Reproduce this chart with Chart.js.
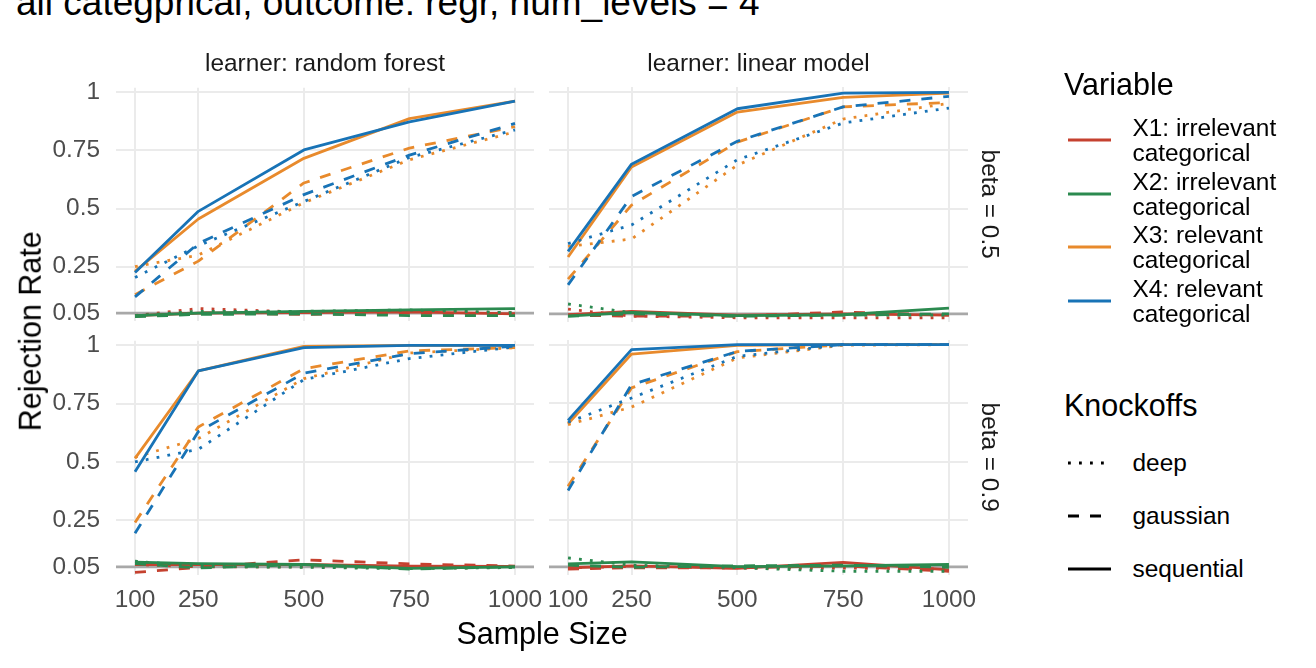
<!DOCTYPE html>
<html><head><meta charset="utf-8">
<script src="https://cdn.jsdelivr.net/npm/chart.js@4.4.0/dist/chart.umd.min.js"></script>
<style>
body{margin:0;width:1316px;height:668px;overflow:hidden;background:#fff;position:relative;font-family:'Liberation Sans',Arial,Helvetica,sans-serif;}
.t{position:absolute;white-space:nowrap;}
canvas{position:absolute;}
</style></head><body>
<script>
// ---------- data ----------
const titleText = 'all categprical, outcome: regr, num_levels = 4';
const learnerLabels = ['learner: random forest', 'learner: linear model'];
const betaLabels = ['beta = 0.5', 'beta = 0.9'];
const xAxisTitle = 'Sample Size';
const yAxisTitle = 'Rejection Rate';
const sampleSizes = [100, 250, 500, 750, 1000];
const xTickLabels = ['100', '250', '500', '750', '1000'];
const yTickValues = [0.05, 0.25, 0.5, 0.75, 1];
const yTickLabels = ['0.05', '0.25', '0.5', '0.75', '1'];
const alphaLevel = 0.05;
const variableTitle = 'Variable';
const variableNames = ['X1: irrelevant\ncategorical', 'X2: irrelevant\ncategorical', 'X3: relevant\ncategorical', 'X4: relevant\ncategorical'];
const knockoffTitle = 'Knockoffs';
const knockoffNames = ['deep', 'gaussian', 'sequential'];

// rows: X1, X2, X3, X4 ; columns follow sampleSizes
// learner: random forest, beta = 0.5
const rf05_deep = [
  [0.040, 0.070, 0.055, 0.060, 0.052],
  [0.040, 0.058, 0.058, 0.064, 0.052],
  [0.250, 0.300, 0.525, 0.710, 0.830],
  [0.204, 0.340, 0.530, 0.720, 0.838]
];
const rf05_gaussian = [
  [0.037, 0.052, 0.045, 0.050, 0.047],
  [0.035, 0.045, 0.047, 0.040, 0.040],
  [0.130, 0.274, 0.610, 0.760, 0.852],
  [0.120, 0.350, 0.560, 0.730, 0.866]
];
const rf05_sequential = [
  [0.040, 0.050, 0.053, 0.056, 0.047],
  [0.040, 0.050, 0.058, 0.064, 0.070],
  [0.230, 0.455, 0.716, 0.887, 0.962],
  [0.225, 0.488, 0.752, 0.873, 0.962]
];
// learner: linear model, beta = 0.5
const lm05_deep = [
  [0.070, 0.040, 0.033, 0.033, 0.033],
  [0.092, 0.055, 0.040, 0.045, 0.045],
  [0.338, 0.370, 0.686, 0.883, 0.950],
  [0.350, 0.430, 0.709, 0.866, 0.930]
];
const lm05_gaussian = [
  [0.044, 0.040, 0.040, 0.058, 0.044],
  [0.040, 0.050, 0.040, 0.044, 0.050],
  [0.198, 0.515, 0.784, 0.935, 0.954],
  [0.174, 0.552, 0.788, 0.935, 0.980]
];
const lm05_sequential = [
  [0.046, 0.060, 0.044, 0.050, 0.044],
  [0.040, 0.056, 0.042, 0.046, 0.074],
  [0.293, 0.678, 0.913, 0.976, 0.994],
  [0.317, 0.690, 0.927, 0.994, 0.997]
];
// learner: random forest, beta = 0.9
const rf09_deep = [
  [0.060, 0.050, 0.050, 0.045, 0.047],
  [0.074, 0.052, 0.048, 0.042, 0.047],
  [0.520, 0.600, 0.857, 0.967, 0.990],
  [0.500, 0.554, 0.853, 0.943, 0.993]
];
const rf09_gaussian = [
  [0.026, 0.048, 0.080, 0.063, 0.053],
  [0.064, 0.045, 0.060, 0.040, 0.050],
  [0.240, 0.650, 0.900, 0.976, 0.990],
  [0.194, 0.630, 0.880, 0.964, 0.996]
];
const rf09_sequential = [
  [0.060, 0.060, 0.060, 0.053, 0.052],
  [0.070, 0.064, 0.060, 0.043, 0.050],
  [0.515, 0.890, 0.995, 1.000, 1.000],
  [0.458, 0.890, 0.990, 1.000, 1.000]
];
// learner: linear model, beta = 0.9
const lm09_deep = [
  [0.045, 0.052, 0.045, 0.045, 0.040],
  [0.088, 0.057, 0.046, 0.031, 0.031],
  [0.658, 0.733, 0.943, 0.998, 1.000],
  [0.668, 0.772, 0.950, 1.000, 1.000]
];
const lm09_gaussian = [
  [0.040, 0.046, 0.046, 0.054, 0.031],
  [0.057, 0.048, 0.054, 0.057, 0.048],
  [0.394, 0.815, 0.970, 1.000, 1.000],
  [0.376, 0.829, 0.971, 1.000, 1.000]
];
const lm09_sequential = [
  [0.046, 0.054, 0.043, 0.069, 0.037],
  [0.063, 0.071, 0.051, 0.054, 0.060],
  [0.662, 0.960, 0.997, 1.000, 1.000],
  [0.676, 0.979, 1.000, 1.000, 1.000]
];

// ---------- styles ----------
const variableColors = ['#c5412f', '#2b8a4f', '#e88a2c', '#1873b6'];
const knockoffDashes = [[2.8, 8.2], [11, 11], []];
const LW = 2.8;
const FONT = "'Liberation Sans', Arial, Helvetica, sans-serif";
const X_MIN = 55, X_MAX = 1045, Y_MIN = 0.015, Y_MAX = 1.02;

// ---------- text helpers ----------
function addText(txt, x, base, fs, align, color) {
  const d = document.createElement('div');
  d.className = 't';
  d.textContent = txt;
  d.style.fontSize = fs + 'px';
  d.style.lineHeight = fs + 'px';
  d.style.color = color || '#000';
  d.style.top = (base - 0.8465 * fs) + 'px';
  if (align === 'center') { d.style.left = (x - 500) + 'px'; d.style.width = '1000px'; d.style.textAlign = 'center'; }
  else { d.style.left = x + 'px'; }
  document.body.appendChild(d);
}
function addRotText(txt, cx, cy, fs, deg, color) {
  const d = document.createElement('div');
  d.className = 't';
  d.textContent = txt;
  d.style.fontSize = fs + 'px';
  d.style.lineHeight = fs + 'px';
  d.style.height = fs + 'px';
  d.style.width = '600px';
  d.style.textAlign = 'center';
  d.style.left = (cx - 300) + 'px';
  d.style.top = (cy - fs / 2) + 'px';
  d.style.color = color || '#000';
  d.style.transform = 'rotate(' + deg + 'deg)';
  d.style.transformOrigin = '50% 50%';
  document.body.appendChild(d);
}

// ---------- panels ----------
const refLinePlugin = {
  id: 'refLine',
  beforeDatasetsDraw(chart) {
    const {ctx, chartArea, scales} = chart;
    const y = scales.y.getPixelForValue(alphaLevel);
    ctx.save();
    ctx.strokeStyle = '#a8a8a8';
    ctx.lineWidth = LW;
    ctx.beginPath();
    ctx.moveTo(chartArea.left, y);
    ctx.lineTo(chartArea.right, y);
    ctx.stroke();
    ctx.restore();
  }
};

const COLS = [{left: 116, right: 534}, {left: 549, right: 968}];
const ROWS = [{top: 87, bottom: 322}, {top: 340, bottom: 575}];
const PAD = 30;

function makePanel(col, row, seriesByKnockoff) {
  const showY = col === 0, showX = row === 1;
  const wy = showY ? COLS[col].left : 0;
  const hx = showX ? 60 : 0;
  const divLeft = showY ? 0 : COLS[col].left - PAD;
  const padL = showY ? 0 : PAD;
  const divTop = ROWS[row].top - PAD;
  const padB = showX ? 10 : PAD;
  const w = COLS[col].right + PAD - divLeft;
  const h = ROWS[row].bottom + hx + padB - divTop;
  const cv = document.createElement('canvas');
  cv.width = w; cv.height = h;
  cv.style.left = divLeft + 'px'; cv.style.top = divTop + 'px';
  cv.style.width = w + 'px'; cv.style.height = h + 'px';
  document.body.appendChild(cv);

  const datasets = [];
  for (let v = 0; v < variableColors.length; v++) {
    for (let k = 0; k < knockoffNames.length; k++) {
      const vals = seriesByKnockoff[k][v];
      datasets.push({
        label: variableNames[v] + ' / ' + knockoffNames[k],
        data: sampleSizes.map((s, i) => ({x: s, y: vals[i]})),
        borderColor: variableColors[v],
        backgroundColor: variableColors[v],
        borderWidth: LW,
        borderDash: knockoffDashes[k],
        borderCapStyle: 'butt',
        borderJoinStyle: 'round',
        pointRadius: 0,
        fill: false,
        tension: 0,
        order: 100 - (v * 3 + k)
      });
    }
  }
  new Chart(cv, {
    type: 'line',
    data: {datasets},
    plugins: [refLinePlugin],
    options: {
      responsive: false,
      animation: false,
      events: [],
      layout: {padding: {left: padL, right: PAD, top: PAD, bottom: padB}},
      plugins: {legend: {display: false}, tooltip: {enabled: false}},
      scales: {
        x: {
          type: 'linear', min: X_MIN, max: X_MAX,
          afterBuildTicks: s => { s.ticks = sampleSizes.map(v => ({value: v})); },
          afterFit: s => { s.height = hx; },
          grid: {color: '#ebebeb', lineWidth: 2, drawTicks: false},
          border: {display: false},
          ticks: {
            display: showX, padding: 11, autoSkip: false, maxRotation: 0, minRotation: 0,
            color: '#4d4d4d', font: {family: FONT, size: 24.4},
            callback: v => xTickLabels[sampleSizes.indexOf(v)]
          }
        },
        y: {
          type: 'linear', min: Y_MIN, max: Y_MAX,
          afterBuildTicks: s => { s.ticks = yTickValues.map(v => ({value: v})); },
          afterFit: s => { s.width = wy; },
          grid: {color: '#ebebeb', lineWidth: 2, drawTicks: false},
          border: {display: false},
          ticks: {
            display: showY, padding: 16, autoSkip: false,
            color: '#4d4d4d', font: {family: FONT, size: 24.4},
            callback: v => yTickLabels[yTickValues.indexOf(v)]
          }
        }
      }
    }
  });
}

makePanel(0, 0, [rf05_deep, rf05_gaussian, rf05_sequential]);
makePanel(1, 0, [lm05_deep, lm05_gaussian, lm05_sequential]);
makePanel(0, 1, [rf09_deep, rf09_gaussian, rf09_sequential]);
makePanel(1, 1, [lm09_deep, lm09_gaussian, lm09_sequential]);

// ---------- texts ----------
addText(titleText, 16, 15, 37, 'left', '#000');
addText(learnerLabels[0], (COLS[0].left + COLS[0].right) / 2, 71.7, 24.4, 'center', '#1a1a1a');
addText(learnerLabels[1], (COLS[1].left + COLS[1].right) / 2, 71.7, 24.4, 'center', '#1a1a1a');
addRotText(betaLabels[0], 990, (ROWS[0].top + ROWS[0].bottom) / 2, 24.4, 90, '#1a1a1a');
addRotText(betaLabels[1], 990, (ROWS[1].top + ROWS[1].bottom) / 2, 24.4, 90, '#1a1a1a');
addText(xAxisTitle, (COLS[0].left + COLS[1].right) / 2, 644, 30.5, 'center', '#000');
addRotText(yAxisTitle, 30, (ROWS[0].top + ROWS[1].bottom) / 2, 30.5, -90, '#000');

// ---------- legends ----------
const NS = 'http://www.w3.org/2000/svg';
function keyLine(y, color, dash) {
  const svg = document.createElementNS(NS, 'svg');
  svg.setAttribute('width', '50'); svg.setAttribute('height', '10');
  svg.style.position = 'absolute';
  svg.style.left = '1066px';
  svg.style.top = (y - 5) + 'px';
  const ln = document.createElementNS(NS, 'line');
  ln.setAttribute('x1', '2'); ln.setAttribute('x2', '45');
  ln.setAttribute('y1', '5'); ln.setAttribute('y2', '5');
  ln.setAttribute('stroke', color);
  ln.setAttribute('stroke-width', LW);
  if (dash.length) ln.setAttribute('stroke-dasharray', dash.join(' '));
  svg.appendChild(ln);
  document.body.appendChild(svg);
}
addText(variableTitle, 1064, 95, 30.5, 'left', '#000');
variableNames.forEach((name, i) => {
  const ky = 140 + 53.6 * i;
  keyLine(ky, variableColors[i], []);
  const lines = name.split('\n');
  addText(lines[0], 1132.5, ky - 3.3, 24.4, 'left', '#000');
  addText(lines[1], 1132.5, ky + 21.7, 24.4, 'left', '#000');
});
addText(knockoffTitle, 1064, 416, 30.5, 'left', '#000');
knockoffNames.forEach((name, i) => {
  const ky = 463.3 + 53 * i;
  keyLine(ky, '#000', knockoffDashes[i]);
  addText(name, 1132.5, ky + 8.5, 24.4, 'left', '#000');
});
</script>
</body></html>
